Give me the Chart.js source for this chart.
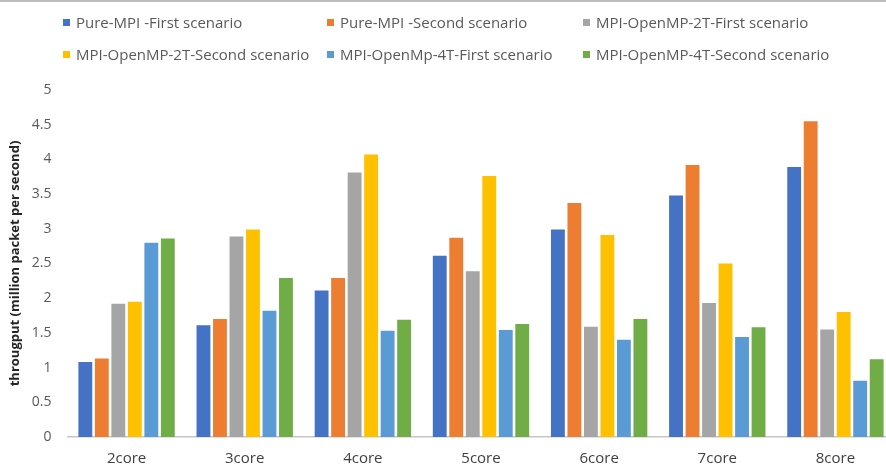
<!DOCTYPE html>
<html>
<head>
<meta charset="utf-8">
<script src="https://cdn.jsdelivr.net/npm/chart.js@4/dist/chart.umd.min.js"></script>
<style>
  html, body { margin: 0; padding: 0; background: #fff; overflow: hidden; }
  #wrap { position: relative; width: 900px; height: 472px; border-top: 2px solid #bdbdbd; box-sizing: border-box; }
  #grafico { position: absolute; left: 0; top: -2px; }
  #legenda {
    position: absolute; left: 63px; top: 11px;
    display: grid; grid-template-columns: 264px 256px auto; row-gap: 14px;
    font-family: "Open Sans", sans-serif; font-size: 15px; color: #595959;
  }
  #legenda .item { display: flex; align-items: center; white-space: nowrap; height: 18px; }
  #legenda .caixa { width: 7px; height: 7px; margin-right: 6px; }
</style>
</head>
<body>
<div id="wrap">
  <canvas id="grafico" width="900" height="472"></canvas>
  <div id="legenda"></div>
</div>
<script>
// categorias e valores (milhoes de pacotes por segundo)
const cores = ['2core', '3core', '4core', '5core', '6core', '7core', '8core'];
const pureMpiFirst  = [1.08, 1.61, 2.11, 2.61, 2.99, 3.48, 3.89];
const pureMpiSecond = [1.13, 1.70, 2.29, 2.87, 3.37, 3.92, 4.55];
const omp2tFirst    = [1.92, 2.89, 3.81, 2.39, 1.59, 1.93, 1.55];
const omp2tSecond   = [1.95, 2.99, 4.07, 3.76, 2.91, 2.50, 1.80];
const omp4tFirst    = [2.80, 1.82, 1.53, 1.54, 1.40, 1.44, 0.81];
const omp4tSecond   = [2.86, 2.29, 1.69, 1.63, 1.70, 1.58, 1.12];

const nomes = [
    'Pure-MPI -First scenario',
    'Pure-MPI -Second scenario',
    'MPI-OpenMP-2T-First scenario',
    'MPI-OpenMP-2T-Second scenario',
    'MPI-OpenMp-4T-First scenario',
    'MPI-OpenMP-4T-Second scenario'
];
const series = [pureMpiFirst, pureMpiSecond, omp2tFirst, omp2tSecond, omp4tFirst, omp4tSecond];
const cores_ = ['#4472C4', '#ED7D31', '#A5A5A5', '#FFC000', '#5B9BD5', '#70AD47'];

const yTicks = [0, 0.5, 1, 1.5, 2, 2.5, 3, 3.5, 4, 4.5, 5];

const fonte = '"Open Sans", sans-serif';

const config = {
    type: 'bar',
    data: {
        labels: cores,
        datasets: series.map((valores, i) => ({
            label: nomes[i],
            data: valores,
            backgroundColor: cores_[i],
            borderWidth: 0,
            barPercentage: 0.84,
            categoryPercentage: 0.838
        }))
    },
    options: {
        responsive: false,
        animation: false,
        layout: {
            padding: { top: 90, right: 5.5, bottom: 5, left: 0 }
        },
        plugins: {
            legend: { display: false },
            tooltip: { enabled: false }
        },
        scales: {
            x: {
                afterFit: (scale) => {
                    scale.height = 30;
                },
                grid: { display: false, drawTicks: false },
                border: { display: true, color: '#c6c6c6', width: 1.5 },
                ticks: {
                    padding: 13,
                    color: '#404040',
                    font: { family: fonte, size: 15 }
                }
            },
            y: {
                min: 0,
                max: 5,
                afterBuildTicks: (scale) => {
                    scale.ticks = yTicks.map(v => ({ value: v }));
                },
                afterFit: (scale) => {
                    scale.width = 67.5;
                },
                grid: { display: false, drawTicks: false },
                border: { display: false },
                ticks: {
                    padding: 16,
                    color: '#595959',
                    font: { family: fonte, size: 14 },
                    callback: (v) => String(v)
                },
                title: {
                    display: true,
                    text: 'througput (million packet per second)',
                    color: '#262626',
                    padding: { top: 7, bottom: 0 },
                    font: { family: fonte, size: 13, weight: 'bold' }
                }
            }
        }
    }
};

document.addEventListener('DOMContentLoaded', function() {
    var ctx = document.getElementById('grafico').getContext('2d');
    const grafico = new Chart(ctx, config);
    montarLegenda(grafico);
});

// legenda em html, 3 colunas
function montarLegenda(grafico) {
    const container = document.getElementById('legenda');
    grafico.data.datasets.forEach((ds) => {
        const item = document.createElement('div');
        item.className = 'item';
        const caixa = document.createElement('span');
        caixa.className = 'caixa';
        caixa.style.background = ds.backgroundColor;
        const texto = document.createElement('span');
        texto.textContent = ds.label;
        item.appendChild(caixa);
        item.appendChild(texto);
        container.appendChild(item);
    });
}
</script>
</body>
</html>
